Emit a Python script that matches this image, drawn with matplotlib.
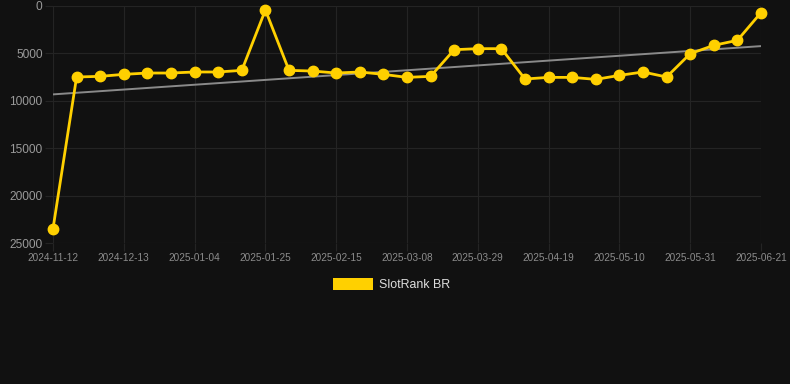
import numpy as np
import matplotlib
matplotlib.use("Agg")
import matplotlib.pyplot as plt
from matplotlib.patches import Rectangle

plt.rcParams["font.family"] = ["Liberation Sans", "DejaVu Sans"]

dates = ["2024-11-12", "2024-11-29", "2024-12-06", "2024-12-13", "2024-12-20",
         "2024-12-28", "2025-01-04", "2025-01-11", "2025-01-18", "2025-01-25",
         "2025-02-01", "2025-02-08", "2025-02-15", "2025-02-22", "2025-03-01",
         "2025-03-08", "2025-03-15", "2025-03-22", "2025-03-29", "2025-04-05",
         "2025-04-12", "2025-04-19", "2025-04-26", "2025-05-03", "2025-05-10",
         "2025-05-17", "2025-05-24", "2025-05-31", "2025-06-07", "2025-06-14",
         "2025-06-21"]
ranks = [23490, 7490, 7420, 7210, 7070, 7070, 6960, 6960, 6790, 420,
         6790, 6860, 7070, 6960, 7210, 7530, 7420, 4610, 4500, 4500,
         7700, 7530, 7530, 7740, 7320, 6960, 7490, 5030, 4150, 3620, 700]
yticks = [0, 5000, 10000, 15000, 20000, 25000]
series_name = "SlotRank BR"

bg = "#111111"
gold = "#FFD000"
grid = "#242424"

fig = plt.figure(figsize=(7.9, 3.84), dpi=100, facecolor=bg)
ax = fig.add_axes([53/790, 141/384, 708/790, 237/384], facecolor=bg)

x = np.arange(len(dates))
coef = np.polyfit(x, ranks, 1)
ax.plot(x, np.polyval(coef, x), color="#8a8a8a", lw=1.4, zorder=2)
ax.plot(x, ranks, color=gold, lw=2.0, marker="o", ms=7.5,
        markerfacecolor=gold, markeredgecolor=gold, zorder=3, clip_on=False)

ax.set_xlim(0, len(dates) - 1)
ax.set_ylim(25000, 0)
ax.set_yticks(yticks)
ax.set_yticklabels([str(v) for v in yticks])
ax.set_xticks(x[::3])
ax.set_xticklabels(dates[::3])

ax.grid(True, color=grid, lw=0.8)
for s in ax.spines.values():
    s.set_visible(False)
ax.tick_params(axis="y", length=6, color=grid, labelcolor="#9a9a9a",
               labelsize=8.6, pad=1.5)
ax.tick_params(axis="x", length=6, color=grid, labelcolor="#8c8c8c",
               labelsize=7.2, pad=1.5)
ax.axhline(25000, color=grid, lw=0.8)

fig.patches.append(Rectangle((333/790, 1 - 290/384), 40/790, 12/384,
                             transform=fig.transFigure, facecolor=gold,
                             edgecolor="none"))
fig.text(379/790, 1 - 285/384, series_name, color="#dddddd", fontsize=8.9,
         va="center", ha="left")

fig.savefig("out.png", dpi=100, facecolor=bg)
